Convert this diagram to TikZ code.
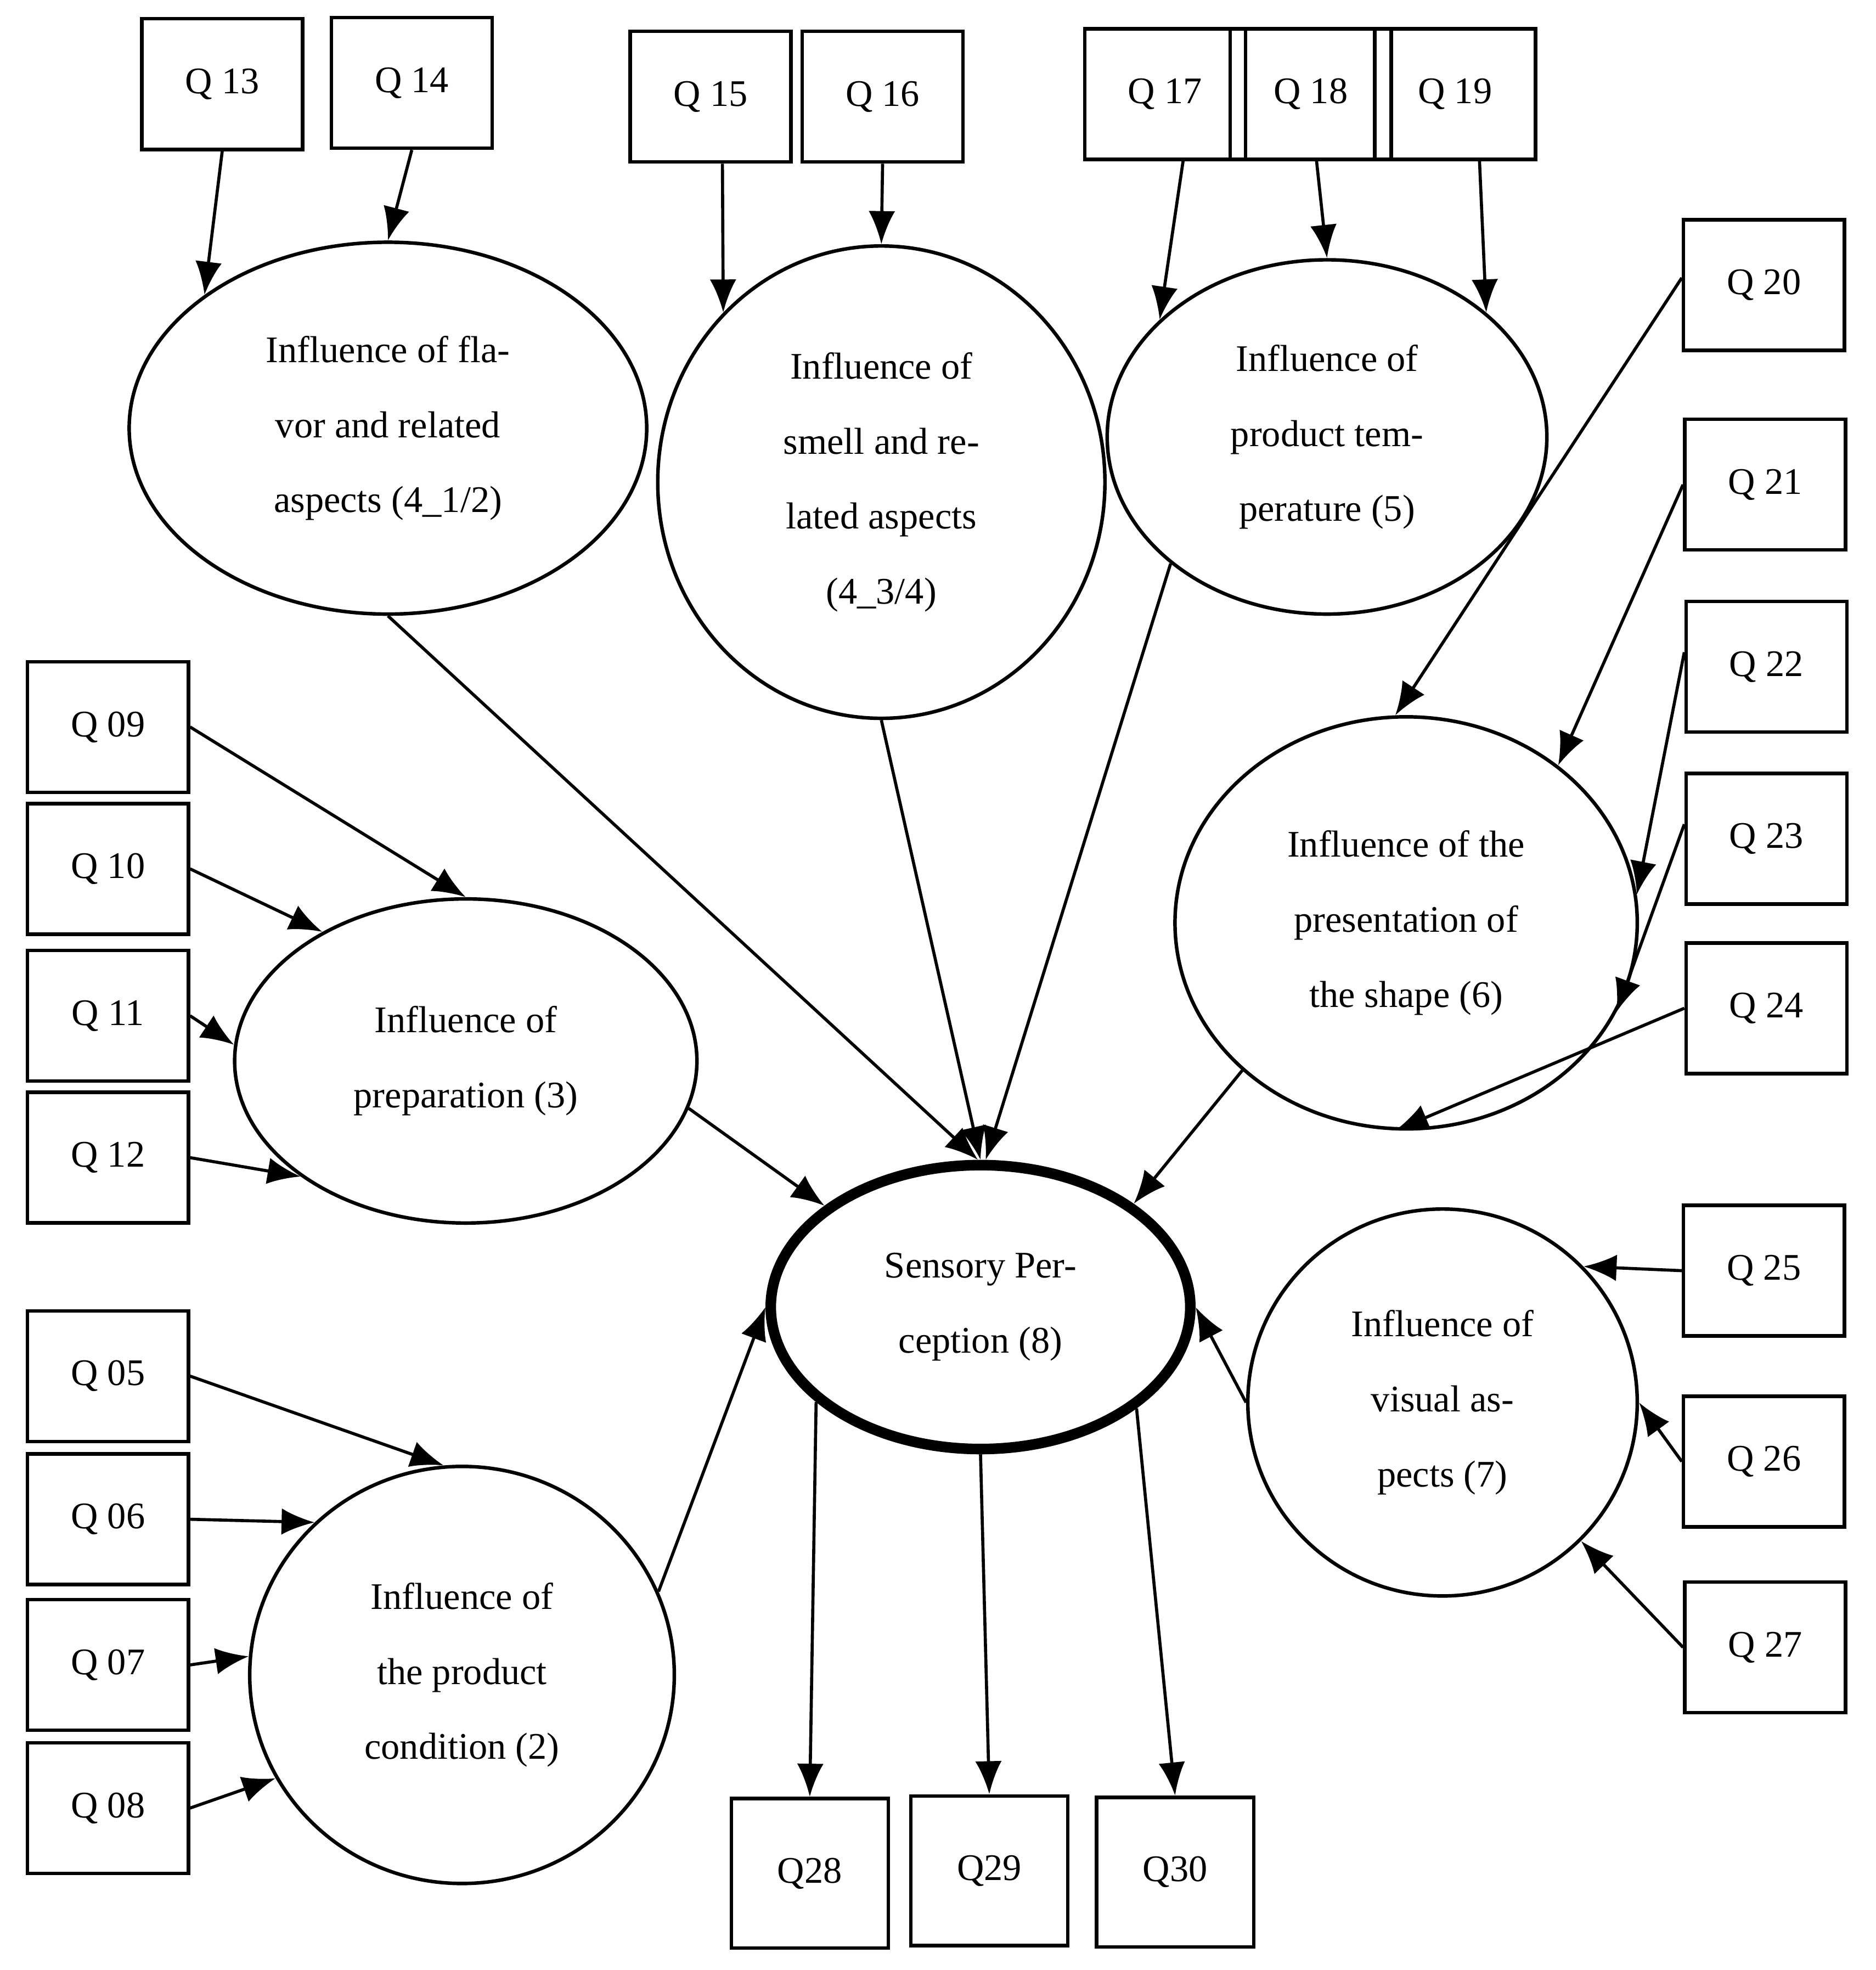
\documentclass[tikz,border=0pt]{standalone}
\usepackage{fontspec}
\setmainfont{Liberation Serif}
\usetikzlibrary{shapes.geometric,arrows.meta}
\begin{document}
\begin{tikzpicture}[x=0.01cm,y=-0.01cm,
  q/.style={draw,line width=0.8pt,minimum width=1.28cm,minimum height=1.04cm,inner sep=0pt,font=\fontsize{8.5}{10}\selectfont},
  qb/.style={q,minimum width=1.25cm,minimum height=1.19cm},
  lv/.style={draw,ellipse,line width=0.8pt,inner sep=0pt,align=center,font=\fontsize{8.5}{17}\selectfont},
  arr/.style={line width=0.7pt,-{Latex[length=7.5pt,width=6pt]}}]
\useasboundingbox (0,0) rectangle (1494,1569);
% indicators
\node[q] (q13) at (177,67) {Q 13};
\node[q] (q14) at (328,66) {Q 14};
\node[q] (q15) at (566,77) {Q 15};
\node[q] (q16) at (703,77) {Q 16};
\node[q] (q17) at (928,75) {Q 17};
\node[q] (q18) at (1044,75) {Q 18};
\node[q] (q19) at (1159,75) {Q 19};
\node[q] (q20) at (1405,227) {Q 20};
\node[q] (q21) at (1406,386) {Q 21};
\node[q] (q22) at (1407,531) {Q 22};
\node[q] (q23) at (1407,668) {Q 23};
\node[q] (q24) at (1407,803) {Q 24};
\node[q] (q25) at (1405,1012) {Q 25};
\node[q] (q26) at (1405,1164) {Q 26};
\node[q] (q27) at (1406,1312) {Q 27};
\node[q] (q09) at (86,579) {Q 09};
\node[q] (q10) at (86,692) {Q 10};
\node[q] (q11) at (86,809) {Q 11};
\node[q] (q12) at (86,922) {Q 12};
\node[q] (q05) at (86,1096) {Q 05};
\node[q] (q06) at (86,1210) {Q 06};
\node[q] (q07) at (86,1326) {Q 07};
\node[q] (q08) at (86,1440) {Q 08};
\node[qb] (q28) at (645,1492) {Q28};
\node[qb] (q29) at (788,1490) {Q29};
\node[qb] (q30) at (936,1491) {Q30};
% latent variables
\node[lv,minimum width=4.12cm,minimum height=2.96cm] (flav) at (309,341) {Influence of fla-\\vor and related\\aspects (4\_1/2)};
\node[lv,minimum width=3.56cm,minimum height=3.76cm] (smell) at (702,384) {Influence of\\smell and re-\\lated aspects\\(4\_3/4)};
\node[lv,minimum width=3.5cm,minimum height=2.82cm] (temp) at (1057,348) {Influence of\\product tem-\\perature (5)};
\node[lv,minimum width=3.68cm,minimum height=3.28cm] (shape) at (1120,735) {Influence of the\\presentation of\\the shape (6)};
\node[lv,minimum width=3.68cm,minimum height=2.58cm] (prep) at (371,845) {Influence of\\preparation (3)};
\node[lv,line width=2.4pt,minimum width=3.34cm,minimum height=2.26cm] (sens) at (781,1041) {Sensory Per-\\ception (8)};
\node[lv,minimum width=3.38cm,minimum height=3.32cm] (cond) at (368,1334) {Influence of\\the product\\condition (2)};
\node[lv,minimum width=3.1cm,minimum height=3.08cm] (vis) at (1149,1117) {Influence of\\visual as-\\pects (7)};
% arrows
\draw[arr] (q13.south) -- (flav.144);
\draw[arr] (q14.south) -- (flav.90);
\draw[arr] (q15.-80) -- (smell.133);
\draw[arr] (q16.south) -- (smell.90);
\draw[arr] (q17.-75) -- (temp.145);
\draw[arr] (q18.-85) -- (temp.90);
\draw[arr] (q19.-70) -- (temp.38);
\draw[arr] (q20.175) -- (shape.93);
\draw[arr] (q21.west) -- (shape.46);
\draw[arr] (q22.170) -- (shape.7);
\draw[arr] (q23.170) -- (shape.-23);
\draw[arr] (q24.west) -- (shape.-93);
\draw[arr] (q25.west) -- (vis.44);
\draw[arr] (q26.west) -- (vis.east);
\draw[arr] (q27.west) -- (vis.-45);
\draw[arr] (q09.east) -- (prep.90);
\draw[arr] (q10.east) -- (prep.138);
\draw[arr] (q11.east) -- (prep.176);
\draw[arr] (q12.east) -- (prep.215);
\draw[arr] (q05.east) -- (cond.95);
\draw[arr] (q06.east) -- (cond.134);
\draw[arr] (q07.east) -- (cond.175);
\draw[arr] (q08.east) -- (cond.209);
\draw[arr] (sens.210) -- (q28.north);
\draw[arr] (sens.-90) -- (q29.north);
\draw[arr] (sens.-33) -- (q30.north);
\draw[arr] (flav.south) -- (sens.91);
\draw[arr] (smell.south) -- (sens.90);
\draw[arr] (temp.219) -- (sens.88);
\draw[arr] (shape.222) -- (sens.34);
\draw[arr] (prep.-12) -- (sens.147);
\draw[arr] (cond.23) -- (sens.180);
\draw[arr] (vis.west) -- (sens.east);
\end{tikzpicture}
\end{document}
